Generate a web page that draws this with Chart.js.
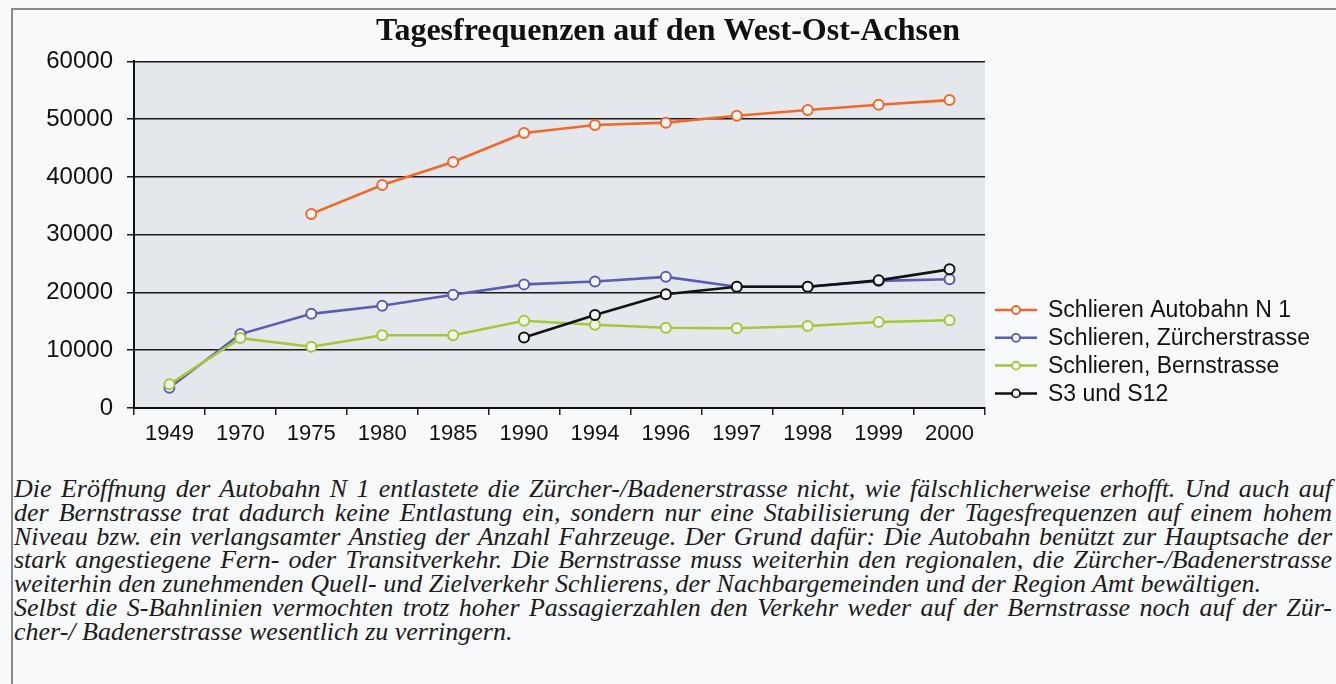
<!DOCTYPE html>
<html>
<head>
<meta charset="utf-8">
<script src="https://cdn.jsdelivr.net/npm/chart.js@4.4.1/dist/chart.umd.min.js"></script>
<style>
  html, body { margin: 0; padding: 0; background: #f8f9fa; }
  body { width: 1336px; height: 684px; position: relative; overflow: hidden; }
  #frame { position: absolute; left: 11px; top: 8px; width: 1340px; height: 700px;
           border-left: 2px solid #8a8a8a; border-top: 2px solid #8a8a8a; }
  #wrap { position: absolute; left: 0; top: 0; width: 1336px; height: 460px; }
  #caption { position: absolute; left: 14px; top: 477px; width: 1318px;
             font-family: 'Liberation Serif', 'DejaVu Serif', serif; font-style: italic;
             font-size: 26px; line-height: 23.8px; color: #1c1c1c; }
  #caption div { white-space: nowrap; }
</style>
</head>
<body>
<div id="frame"></div>
<div id="wrap"><canvas id="chart"></canvas></div>
<div id="caption">
  <div class="j">Die Eröffnung der Autobahn N 1 entlastete die Zürcher-/Badenerstrasse nicht, wie fälschlicherweise erhofft. Und auch auf</div>
  <div class="j">der Bernstrasse trat dadurch keine Entlastung ein, sondern nur eine Stabilisierung der Tagesfrequenzen auf einem hohem</div>
  <div class="j">Niveau bzw. ein verlangsamter Anstieg der Anzahl Fahrzeuge. Der Grund dafür: Die Autobahn benützt zur Hauptsache der</div>
  <div class="j">stark angestiegene Fern- oder Transitverkehr. Die Bernstrasse muss weiterhin den regionalen, die Zürcher-/Badenerstrasse</div>
  <div>weiterhin den zunehmenden Quell- und Zielverkehr Schlierens, der Nachbargemeinden und der Region Amt bewältigen.</div>
  <div class="j">Selbst die S-Bahnlinien vermochten trotz hoher Passagierzahlen den Verkehr weder auf der Bernstrasse noch auf der Zür-</div>
  <div>cher-/ Badenerstrasse wesentlich zu verringern.</div>
</div>
<script>
// Data
const years = ['1949', '1970', '1975', '1980', '1985', '1990', '1994', '1996', '1997', '1998', '1999', '2000'];
const autobahnN1 = [null, null, 33600, 38600, 42600, 47600, 49000, 49400, 50600, 51600, 52500, 53300];
const zuercherstrasse = [3500, 12800, 16300, 17700, 19600, 21400, 21900, 22700, 21000, 21000, 22000, 22300];
const bernstrasse = [4100, 12100, 10600, 12600, 12600, 15100, 14400, 13900, 13800, 14200, 14900, 15200];
const s3s12 = [null, null, null, null, null, 12200, 16100, 19700, 21000, 21000, 22100, 24000];
const yTicks = [0, 10000, 20000, 30000, 40000, 50000, 60000];

const seriesNames = ['Schlieren Autobahn N 1', 'Schlieren, Zürcherstrasse', 'Schlieren, Bernstrasse', 'S3 und S12'];
const seriesColors = ['#f0692a', '#5a5eb2', '#a3c93a', '#121212'];
const seriesData = [autobahnN1, zuercherstrasse, bernstrasse, s3s12];
const drawOrder = [3, 2, 1, 0];

// plot background
const plotBg = {
  id: 'plotBg',
  beforeDraw(chart) {
    const a = chart.chartArea, ctx = chart.ctx;
    ctx.save();
    ctx.fillStyle = '#e4e7eb';
    ctx.fillRect(a.left, a.top, a.right - a.left, a.bottom - a.top);
    ctx.restore();
  }
};

// legend on the right: line + circle + label
const sideLegend = {
  id: 'sideLegend',
  afterDraw(chart) {
    const ctx = chart.ctx;
    ctx.save();
    ctx.font = '23px "Liberation Sans", Arial, sans-serif';
    ctx.textBaseline = 'middle';
    chart.data.datasets.forEach((ds, i) => {
      const y = 310 + i * 27.8;
      ctx.strokeStyle = ds.borderColor;
      ctx.lineWidth = 2.5;
      ctx.beginPath();
      ctx.moveTo(995, y);
      ctx.lineTo(1037, y);
      ctx.stroke();
      ctx.beginPath();
      ctx.arc(1016, y, 4, 0, Math.PI * 2);
      ctx.fillStyle = '#f2f3f3';
      ctx.fill();
      ctx.lineWidth = 1.8;
      ctx.stroke();
      ctx.fillStyle = '#111';
      ctx.fillText(ds.label, 1048, y + 1);
    });
    ctx.restore();
  }
};

const ctx = document.getElementById('chart').getContext('2d');
const chart = new Chart(ctx, {
  type: 'line',
  data: {
    labels: years,
    datasets: seriesData.map((d, i) => ({
      label: seriesNames[i],
      data: d,
      borderColor: seriesColors[i],
      backgroundColor: '#f2f3f3',
      borderWidth: 2.6,
      tension: 0,
      pointRadius: 5,
      pointBorderWidth: 2,
      pointBackgroundColor: '#f2f3f3',
      pointBorderColor: seriesColors[i],
      order: drawOrder[i]
    }))
  },
  options: {
    responsive: true,
    maintainAspectRatio: false,
    animation: false,
    layout: { padding: 0 },
    scales: {
      x: {
        offset: true,
        afterFit(scale) { scale.height = 52; },
        grid: { offset: true, drawOnChartArea: false, drawTicks: true, tickLength: 7, color: '#222', lineWidth: 1.5 },
        border: { color: '#111', width: 2 },
        ticks: { color: '#111', padding: 6, maxRotation: 0, autoSkip: false,
                 font: { family: '"Liberation Sans", Arial, sans-serif', size: 22 } }
      },
      y: {
        min: 0,
        max: 60000,
        afterFit(scale) { scale.width = 134; },
        afterBuildTicks(scale) { scale.ticks = yTicks.map(v => ({ value: v })); },
        grid: { color: '#1a1a1a', lineWidth: 1.5, drawTicks: true, tickLength: 7 },
        border: { color: '#111', width: 2 },
        ticks: { color: '#111', padding: 14, callback: v => String(v),
                 font: { family: '"Liberation Sans", Arial, sans-serif', size: 24 } }
      },
      // empty right-hand axis keeps room for the legend
      yRight: {
        position: 'right',
        afterFit(scale) { scale.width = 351; },
        grid: { display: false },
        border: { display: false },
        ticks: { display: false }
      }
    },
    plugins: {
      legend: { display: false },
      tooltip: { enabled: false },
      title: {
        display: true,
        text: 'Tagesfrequenzen auf den West-Ost-Achsen',
        color: '#111',
        font: { family: '"Liberation Serif", "Times New Roman", serif', size: 32, weight: 'bold' },
        padding: { top: 13, bottom: 10 }
      }
    }
  },
  plugins: [plotBg, sideLegend]
});

// justify the full caption lines to the box width
const boxW = 1318;
document.querySelectorAll('#caption div.j').forEach(line => {
  const span = document.createElement('span');
  span.textContent = line.textContent;
  line.textContent = '';
  line.appendChild(span);
  const w = span.getBoundingClientRect().width;
  const gaps = (span.textContent.match(/ /g) || []).length;
  if (w < boxW && gaps) {
    line.style.wordSpacing = ((boxW - w) / gaps) + 'px';
  } else if (w > boxW) {
    span.style.display = 'inline-block';
    span.style.transformOrigin = 'left center';
    span.style.transform = 'scaleX(' + (boxW / w) + ')';
  }
});
</script>
</body>
</html>
